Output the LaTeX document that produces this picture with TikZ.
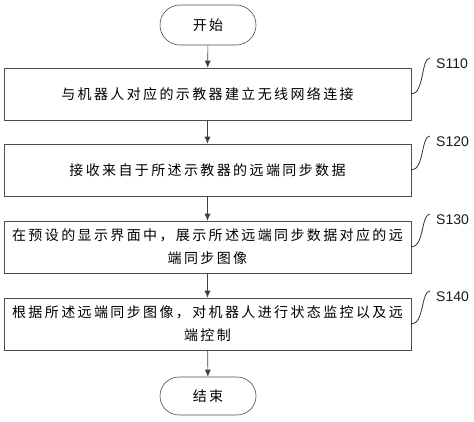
\documentclass[tikz,border=0pt]{standalone}
\usepackage{fontspec}
\usepackage{tikz}
\usetikzlibrary{shapes.misc}
\usetikzlibrary{arrows.meta}
\newfontfamily\cjk[LetterSpace=17]{Noto Sans CJK SC}
\newfontfamily\latin{Liberation Sans}
\tikzset{
  stepbox/.style={draw=black!70, line width=0.6pt, minimum width=407pt, minimum height=52pt, align=center, font=\cjk\fontsize{14}{23}\selectfont, text=black, inner sep=0pt},
  terminal/.style={draw=black!70, line width=0.6pt, rounded rectangle, minimum width=96pt, minimum height=40pt, font=\cjk\fontsize{14}{23}\selectfont, text=black, inner sep=0pt},
  flow/.style={draw=black!75, line width=0.6pt, -{Latex[length=7pt,width=6pt]}},
  steptag/.style={font=\latin\fontsize{14}{16}\selectfont, text=black!90, anchor=west, inner sep=0pt},
  tagline/.style={draw=black!80, line width=0.8pt}
}
\begin{document}
\begin{tikzpicture}[x=1pt,y=-1pt]
\useasboundingbox (0,0) rectangle (474,421);
\node[terminal] (start) at (208,25) {开始};
\node[stepbox] (s110) at (207.5,94) {与机器人对应的示教器建立无线网络连接};
\node[stepbox] (s120) at (207.5,170) {接收来自于所述示教器的远端同步数据};
\node[stepbox] (s130) at (207.5,247) {在预设的显示界面中，展示所述远端同步数据对应的远\\端同步图像};
\node[stepbox] (s140) at (207.5,324) {根据所述远端同步图像，对机器人进行状态监控以及远\\端控制};
\node[terminal, minimum height=38pt] (end) at (208,396) {结束};
\draw[flow] (start) -- (s110);
\draw[flow] (s110) -- (s120);
\draw[flow] (s120) -- (s130);
\draw[flow] (s130) -- (s140);
\draw[flow] (s140) -- (end);
\coordinate (t110) at (430,58);
\coordinate (t120) at (430,136);
\coordinate (t130) at (430,214);
\coordinate (t140) at (430,291);
\draw[tagline] (s110.east) .. controls +(13,0) and +(-9,0) .. (t110);
\draw[tagline] (s120.east) .. controls +(13,0) and +(-9,0) .. (t120);
\draw[tagline] (s130.east) .. controls +(13,0) and +(-9,0) .. (t130);
\draw[tagline] (s140.east) .. controls +(13,0) and +(-9,0) .. (t140);
\node[steptag] (l110) at (436,64) {S110};
\node[steptag] (l120) at (436,142) {S120};
\node[steptag] (l130) at (436,220) {S130};
\node[steptag] (l140) at (436,297) {S140};
\end{tikzpicture}
\end{document}
